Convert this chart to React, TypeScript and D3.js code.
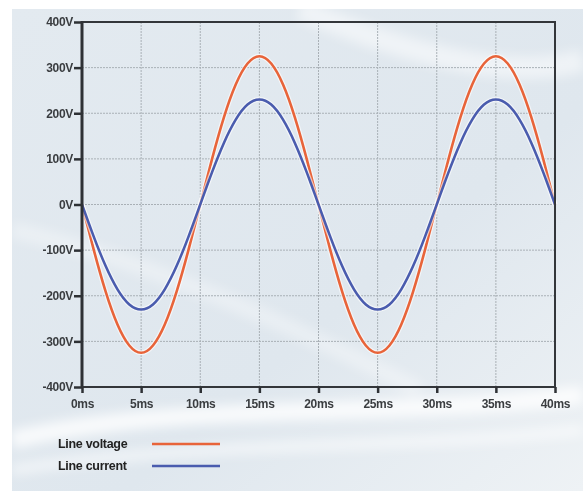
import React, { useEffect, useRef } from 'react';
import * as d3 from 'd3';

// time in ms, sampled every 1ms
const timesMs = [
  0, 1, 2, 3, 4, 5, 6, 7, 8, 9, 10, 11, 12, 13, 14, 15, 16, 17, 18, 19, 20,
  21, 22, 23, 24, 25, 26, 27, 28, 29, 30, 31, 32, 33, 34, 35, 36, 37, 38, 39, 40,
];
const voltage = [
  0, -100, -191, -263, -309, -325, -309, -263, -191, -100, 0,
  100, 191, 263, 309, 325, 309, 263, 191, 100, 0,
  -100, -191, -263, -309, -325, -309, -263, -191, -100, 0,
  100, 191, 263, 309, 325, 309, 263, 191, 100, 0,
];
const current = [
  0, -71, -135, -186, -219, -230, -219, -186, -135, -71, 0,
  71, 135, 186, 219, 230, 219, 186, 135, 71, 0,
  -71, -135, -186, -219, -230, -219, -186, -135, -71, 0,
  71, 135, 186, 219, 230, 219, 186, 135, 71, 0,
];
const xTicks = [0, 5, 10, 15, 20, 25, 30, 35, 40];
const yTicks = [-400, -300, -200, -100, 0, 100, 200, 300, 400];
const seriesNames = ['Line voltage', 'Line current'];
const seriesColors = ['#e8643a', '#4a5cae'];

const App: React.FC = () => {
  const ref = useRef<SVGSVGElement | null>(null);

  useEffect(() => {
    document.body.style.margin = '0';
    if (!ref.current) return;
    const svg = d3.select(ref.current);
    svg.selectAll('*').remove();

    const W = 583;
    const H = 491;
    const margin = { top: 22, right: 28, bottom: 104, left: 82 };
    const width = W - margin.left - margin.right;
    const height = H - margin.top - margin.bottom;

    // background
    const defs = svg.append('defs');
    const grad = defs.append('linearGradient')
      .attr('id', 'bg')
      .attr('x1', '0').attr('y1', '0').attr('x2', '1').attr('y2', '1');
    grad.append('stop').attr('offset', '0%').attr('stop-color', '#e3eaf0');
    grad.append('stop').attr('offset', '60%').attr('stop-color', '#dfe7ee');
    grad.append('stop').attr('offset', '100%').attr('stop-color', '#eef2f5');
    const blur = defs.append('filter').attr('id', 'blur');
    blur.append('feGaussianBlur').attr('stdDeviation', 6);

    svg.append('rect').attr('width', W).attr('height', H).attr('fill', '#ffffff');
    svg.append('rect')
      .attr('x', 12).attr('y', 9)
      .attr('width', W - 12).attr('height', H - 9)
      .attr('fill', 'url(#bg)');

    // soft white swooshes
    const swoosh = svg.append('g').attr('filter', 'url(#blur)').attr('fill', 'none').attr('stroke', '#ffffff');
    swoosh.append('path')
      .attr('d', 'M 12 440 C 180 400, 380 420, 583 395')
      .attr('stroke-width', 18).attr('opacity', 0.8);
    swoosh.append('path')
      .attr('d', 'M 12 470 C 200 440, 400 450, 583 430')
      .attr('stroke-width', 10).attr('opacity', 0.6);
    swoosh.append('path')
      .attr('d', 'M 300 9 C 420 60, 520 80, 583 60')
      .attr('stroke-width', 22).attr('opacity', 0.5);
    swoosh.append('path')
      .attr('d', 'M 12 230 C 150 260, 300 330, 420 390')
      .attr('stroke-width', 16).attr('opacity', 0.35);

    const g = svg.append('g').attr('transform', `translate(${margin.left},${margin.top})`);

    const x = d3.scaleLinear().domain([0, 40]).range([0, width]);
    const y = d3.scaleLinear().domain([-400, 400]).range([height, 0]);

    // grid
    g.append('g')
      .selectAll('line')
      .data(xTicks.slice(1, -1))
      .enter()
      .append('line')
      .attr('x1', d => x(d)).attr('x2', d => x(d))
      .attr('y1', 0).attr('y2', height)
      .attr('stroke', '#a9b0b6').attr('stroke-width', 1)
      .attr('stroke-dasharray', '2,1');
    g.append('g')
      .selectAll('line')
      .data(yTicks.slice(1, -1))
      .enter()
      .append('line')
      .attr('x1', 0).attr('x2', width)
      .attr('y1', d => y(d)).attr('y2', d => y(d))
      .attr('stroke', '#a9b0b6').attr('stroke-width', 1)
      .attr('stroke-dasharray', '2,1');

    // lines
    const pts = (vals: number[]) => timesMs.map((t, i) => [t, vals[i]] as [number, number]);
    const line = d3.line<[number, number]>()
      .x(d => x(d[0]))
      .y(d => y(d[1]))
      .curve(d3.curveNatural);

    [voltage, current].forEach((vals, i) => {
      g.append('path')
        .datum(pts(vals))
        .attr('fill', 'none')
        .attr('stroke', '#ffffff')
        .attr('stroke-opacity', 0.6)
        .attr('stroke-width', 5)
        .attr('d', line);
      g.append('path')
        .datum(pts(vals))
        .attr('fill', 'none')
        .attr('stroke', seriesColors[i])
        .attr('stroke-width', 2.6)
        .attr('d', line);
    });

    // frame
    g.append('rect')
      .attr('width', width).attr('height', height)
      .attr('fill', 'none')
      .attr('stroke', '#33363a').attr('stroke-width', 2);
    g.append('line')
      .attr('x1', 0).attr('x2', 0).attr('y1', -1).attr('y2', height + 1)
      .attr('stroke', '#2e3135').attr('stroke-width', 3);

    const font = "'Liberation Sans', Arial, sans-serif";

    // y axis
    const yAxis = g.append('g')
      .call(d3.axisLeft(y).tickValues(yTicks).tickSize(8).tickFormat(d => `${d}V`));
    yAxis.select('.domain').remove();
    yAxis.selectAll('line').attr('stroke', '#2e3135').attr('stroke-width', 2.5);
    yAxis.selectAll('text')
      .attr('x', -9)
      .attr('fill', '#3a3d40')
      .style('font-family', font)
      .style('font-size', '12px')
      .style('font-weight', 'bold')
      .style('letter-spacing', '-0.3px');

    // x axis
    const xAxis = g.append('g')
      .attr('transform', `translate(0,${height})`)
      .call(d3.axisBottom(x).tickValues(xTicks).tickSize(6).tickFormat(d => `${d}ms`));
    xAxis.select('.domain').remove();
    xAxis.selectAll('line').attr('stroke', '#2e3135').attr('stroke-width', 2.5);
    xAxis.selectAll('text')
      .attr('y', 12)
      .attr('fill', '#3a3d40')
      .style('font-family', font)
      .style('font-size', '12px')
      .style('font-weight', 'bold')
      .style('letter-spacing', '-0.3px');

    // legend
    const legend = svg.append('g').attr('transform', 'translate(58,444)');
    seriesNames.forEach((name, i) => {
      const item = legend.append('g').attr('transform', `translate(0,${i * 22})`);
      item.append('text')
        .attr('x', 0).attr('y', 4)
        .attr('fill', '#222')
        .style('font-family', font)
        .style('font-size', '12.5px')
        .style('font-weight', 'bold')
        .style('letter-spacing', '-0.3px')
        .text(name);
      item.append('line')
        .attr('x1', 94).attr('x2', 162)
        .attr('y1', 0).attr('y2', 0)
        .attr('stroke', seriesColors[i])
        .attr('stroke-width', 2.6);
    });
  }, []);

  return <svg ref={ref} width={583} height={491} style={{ display: 'block' }} />;
};

export default App;
